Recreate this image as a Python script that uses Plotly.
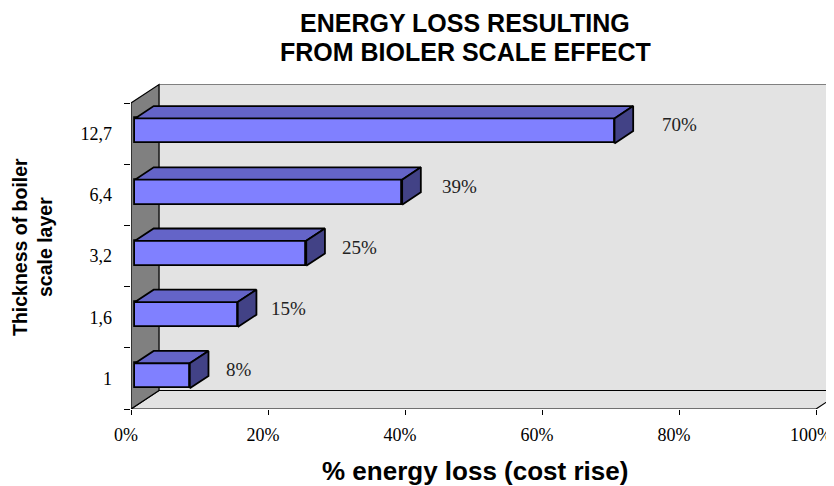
import plotly.graph_objects as go

# ---- data ----
categories = ["1", "1,6", "3,2", "6,4", "12,7"]
values = [8, 15, 25, 39, 70]
x_ticks = [0, 20, 40, 60, 80, 100]
x_tick_labels = ["0%", "20%", "40%", "60%", "80%", "100%"]
value_labels = ["8%", "15%", "25%", "39%", "70%"]
title_lines = ["ENERGY LOSS RESULTING", "FROM BIOLER SCALE EFFECT"]
x_title = "% energy loss (cost rise)"
y_title = "Thickness of boiler<br>scale layer"

# ---- geometry (layout constants, reference pixel space) ----
PAGE_OFF = 8                    # default body margin of the html page
W, H = 834 - PAGE_OFF, 486 - PAGE_OFF
X0_REF, FLOOR_REF, TOP_REF = 131, 409, 80
L = X0_REF - PAGE_OFF
T = TOP_REF - PAGE_OFF
B = H - (FLOOR_REF - PAGE_OFF)
R = 0
PW, PH = W - L - R, H - T - B
PX_X = 6.85           # pixels per percent
PX_Y = 61.2           # pixels per category
XR = PW / PX_X
YR = PH / PX_Y
DX = 28 / PX_X        # depth offset in x data units
DY = 18.5 / PX_Y      # depth offset in y data units
F0, F1 = 0.143, 0.81  # bar front/back depth fractions
BAR_H = 25 / PX_Y
N = len(categories)
XMAX = 100


def paper_x(px_ref):
    return (px_ref - PAGE_OFF - L) / PW


def paper_y(py_ref):
    return (H - B - (py_ref - PAGE_OFF)) / PH


FRONT = "#8080ff"
TOP = "#6464c8"
SIDE = "#424286"
WALL = "#e3e3e3"
SIDEWALL = "#808080"

fig = go.Figure()

# front faces of bars
yc = [k + 0.5 + F0 * DY for k in range(N)]
fig.add_trace(go.Bar(
    orientation="h", x=values, y=yc, base=F0 * DX, width=BAR_H,
    marker=dict(color=FRONT, line=dict(color="black", width=1.8)),
    hoverinfo="skip", showlegend=False,
))

# top and side faces
dd_x = (F1 - F0) * DX
dd_y = (F1 - F0) * DY
for k, v in enumerate(values):
    x0 = F0 * DX
    x1 = x0 + v
    yb = yc[k] - BAR_H / 2
    yt = yc[k] + BAR_H / 2
    fig.add_trace(go.Scatter(
        x=[x0, x1, x1 + dd_x, x0 + dd_x, x0],
        y=[yt, yt, yt + dd_y, yt + dd_y, yt],
        mode="lines", fill="toself", fillcolor=TOP,
        line=dict(color="black", width=1.8), hoverinfo="skip", showlegend=False,
    ))
    fig.add_trace(go.Scatter(
        x=[x1, x1, x1 + dd_x, x1 + dd_x, x1],
        y=[yb, yt, yt + dd_y, yb + dd_y, yb],
        mode="lines", fill="toself", fillcolor=SIDE,
        line=dict(color="black", width=1.8), hoverinfo="skip", showlegend=False,
    ))


def path(pts):
    return "M " + " L ".join(f"{x},{y}" for x, y in pts) + " Z"


shapes = [
    dict(type="path", layer="below", xref="x", yref="y",
         path=path([(DX, DY), (XMAX + DX, DY), (XMAX + DX, N + DY), (DX, N + DY)]),
         fillcolor=WALL, line=dict(color="#808080", width=1)),
    dict(type="path", layer="below", xref="x", yref="y",
         path=path([(0, 0), (XMAX, 0), (XMAX + DX, DY), (DX, DY)]),
         fillcolor=WALL, line=dict(color="black", width=1.2)),
    dict(type="path", layer="below", xref="x", yref="y",
         path=path([(0, 0), (DX, DY), (DX, N + DY), (0, N)]),
         fillcolor=SIDEWALL, line=dict(color="black", width=1.2)),
]

annotations = []
for k, v in enumerate(values):
    annotations.append(dict(
        x=7.5 + 1.036 * v, y=yc[k] + 0.1, xref="x", yref="y",
        text=value_labels[k], showarrow=False, xanchor="center", yanchor="middle",
        font=dict(family="Liberation Serif", size=19, color="#222222"),
    ))

# chart title (two lines, placed individually)
for line, ypx in zip(title_lines, [23, 52]):
    annotations.append(dict(
        x=paper_x(465), y=paper_y(ypx), xref="paper", yref="paper",
        text=f"<b>{line}</b>", showarrow=False, xanchor="center", yanchor="middle",
        font=dict(family="Liberation Sans", size=25, color="black"),
    ))

annotations.append(dict(
    x=paper_x(475), y=paper_y(471), xref="paper", yref="paper",
    text=f"<b>{x_title}</b>", showarrow=False,
    xanchor="center", yanchor="middle",
    font=dict(family="Liberation Sans", size=26, color="black"),
))
annotations.append(dict(
    x=paper_x(32), y=paper_y(247), xref="paper", yref="paper",
    text=f"<b>{y_title}</b>", showarrow=False, textangle=-90,
    xanchor="center", yanchor="middle",
    font=dict(family="Liberation Sans", size=19.5, color="black"),
))

fig.update_layout(
    width=W, height=H, margin=dict(l=L, r=R, t=T, b=B, autoexpand=False),
    paper_bgcolor="white", plot_bgcolor="rgba(0,0,0,0)",
    shapes=shapes, annotations=annotations,
    bargap=0,
    xaxis=dict(
        range=[0, XR], tickvals=x_ticks, ticktext=x_tick_labels,
        ticks="outside", ticklen=5, tickcolor="black", tickwidth=1,
        ticklabelshift=-5, ticklabelstandoff=4, ticklabeloverflow="allow",
        showline=False, showgrid=False, zeroline=False, fixedrange=True,
        tickfont=dict(family="Liberation Serif", size=18, color="black"),
    ),
    yaxis=dict(
        range=[0, YR], tickvals=[k + 0.5 for k in range(N)], ticktext=categories,
        ticks="", showline=False, showgrid=False, zeroline=False, fixedrange=True,
        ticklabelstandoff=18,
        minor=dict(tickvals=list(range(N + 1)), ticks="outside", ticklen=6,
                   tickcolor="black", tickwidth=1),
        tickfont=dict(family="Liberation Serif", size=18, color="black"),
    ),
)

fig.write_html("out.html")
